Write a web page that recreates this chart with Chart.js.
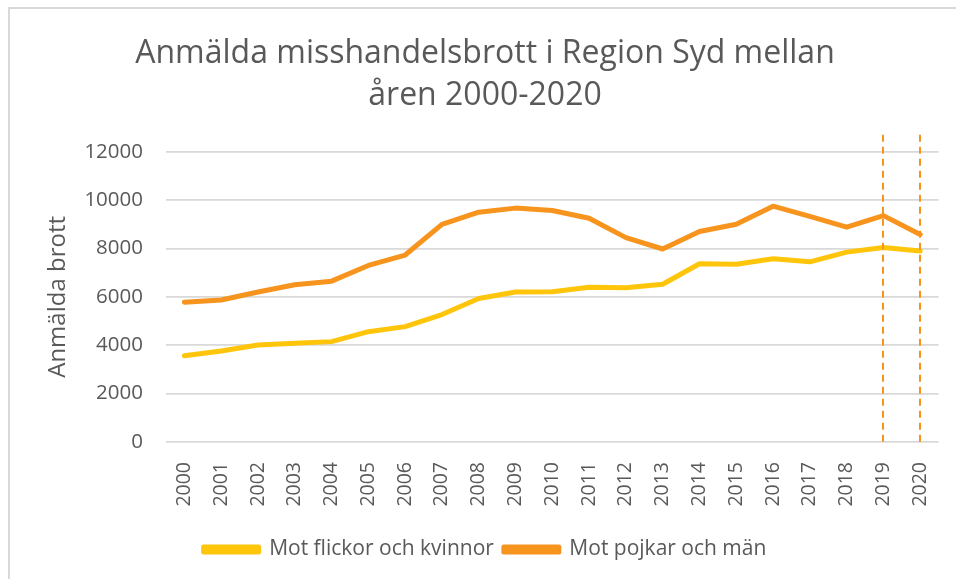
<!DOCTYPE html>
<html>
<head>
    <meta charset="utf-8">
    <script src="https://cdn.jsdelivr.net/npm/chart.js@4.4.1/dist/chart.umd.min.js"></script>
    <style>
        body {
            margin: 0;
            background: #ffffff;
        }

        #wrap {
            position: relative;
            width: 956px;
            height: 579px;
        }
    </style>
    <title>Anmälda misshandelsbrott i Region Syd</title>
</head>
<body>
    <div id="wrap">
        <canvas id="myChart" width="956" height="579"></canvas>
    </div>
    <script>
        var years = ['2000', '2001', '2002', '2003', '2004', '2005', '2006', '2007', '2008', '2009', '2010',
            '2011', '2012', '2013', '2014', '2015', '2016', '2017', '2018', '2019', '2020'];
        var flickorKvinnor = [3570, 3760, 4010, 4080, 4150, 4560, 4770, 5270, 5930, 6200, 6210,
            6400, 6380, 6520, 7370, 7350, 7580, 7450, 7850, 8040, 7900];
        var pojkarMan = [5780, 5870, 6200, 6500, 6650, 7300, 7730, 9000, 9500, 9670, 9570,
            9250, 8450, 7980, 8700, 9000, 9750, 9330, 8880, 9360, 8580];
        var yTicks = [0, 2000, 4000, 6000, 8000, 10000, 12000];
        var markedYears = ['2019', '2020'];

        var grey = '#595959';
        var fontName = "'Open Sans', 'Noto Sans', sans-serif";

        // frame around the whole chart (cut off at right/bottom like the screenshot)
        var framePlugin = {
            id: 'frame',
            beforeDraw: function (chart) {
                var c = chart.ctx;
                c.save();
                c.fillStyle = '#ffffff';
                c.fillRect(0, 0, chart.width, chart.height);
                c.strokeStyle = '#d9d9d9';
                c.lineWidth = 2;
                c.strokeRect(9, 8, chart.width + 20, chart.height + 20);
                c.restore();
            }
        };

        // dashed orange markers at 2019 and 2020
        var markerPlugin = {
            id: 'markers',
            afterDatasetsDraw: function (chart) {
                var c = chart.ctx;
                var x = chart.scales.x;
                var area = chart.chartArea;
                c.save();
                c.strokeStyle = '#F7941D';
                c.lineWidth = 2;
                c.setLineDash([7, 5]);
                markedYears.forEach(function (yr) {
                    var px = Math.round(x.getPixelForValue(yr));
                    c.beginPath();
                    c.moveTo(px, area.top - 17);
                    c.lineTo(px, area.bottom);
                    c.stroke();
                });
                c.restore();
            }
        };

        var ctx = document.getElementById('myChart').getContext('2d');
        var myChart = new Chart(ctx, {
            type: 'line',
            data: {
                labels: years,
                datasets: [{
                    label: 'Mot flickor och kvinnor',
                    data: flickorKvinnor,
                    borderColor: '#FFC50A',
                    backgroundColor: '#FFC50A',
                    borderWidth: 5,
                    pointRadius: 0,
                    borderCapStyle: 'round',
                    borderJoinStyle: 'round',
                    fill: false
                }, {
                    label: 'Mot pojkar och män',
                    data: pojkarMan,
                    borderColor: '#F7941D',
                    backgroundColor: '#F7941D',
                    borderWidth: 5,
                    pointRadius: 0,
                    borderCapStyle: 'round',
                    borderJoinStyle: 'round',
                    fill: false
                }]
            },
            options: {
                responsive: false,
                animation: false,
                devicePixelRatio: 1,
                layout: {
                    padding: { left: 30, right: 16, top: 12, bottom: 9 }
                },
                plugins: {
                    title: {
                        display: true,
                        text: ['Anmälda misshandelsbrott i Region Syd mellan', 'åren 2000-2020'],
                        color: grey,
                        font: { family: fontName, size: 32, weight: 'normal', lineHeight: 1.34 },
                        padding: { top: 20, bottom: 34 }
                    },
                    legend: {
                        position: 'bottom',
                        labels: {
                            color: grey,
                            font: { family: fontName, size: 21 },
                            boxWidth: 55,
                            boxHeight: 5,
                            padding: 10
                        }
                    },
                    tooltip: { enabled: false }
                },
                scales: {
                    x: {
                        offset: true,
                        grid: { display: false },
                        border: { display: false },
                        afterFit: function (axis) { axis.height = 87; },
                        ticks: {
                            color: grey,
                            font: { family: fontName, size: 19.5 },
                            minRotation: 90,
                            maxRotation: 90,
                            padding: 12
                        }
                    },
                    y: {
                        min: 0,
                        max: 12000,
                        afterBuildTicks: function (axis) {
                            axis.ticks = yTicks.map(function (v) { return { value: v }; });
                        },
                        afterFit: function (axis) { axis.width = 136; },
                        grid: { color: '#d9d9d9', lineWidth: 1.8, drawTicks: false },
                        border: { display: false },
                        ticks: {
                            color: grey,
                            font: { family: fontName, size: 20.5 },
                            padding: 23,
                            callback: function (v) { return String(v); }
                        },
                        title: {
                            display: true,
                            text: 'Anmälda brott',
                            color: grey,
                            font: { family: fontName, size: 24 },
                            padding: { top: 14, bottom: 0 }
                        }
                    }
                }
            },
            plugins: [framePlugin, markerPlugin]
        });
    </script>
</body>
</html>
